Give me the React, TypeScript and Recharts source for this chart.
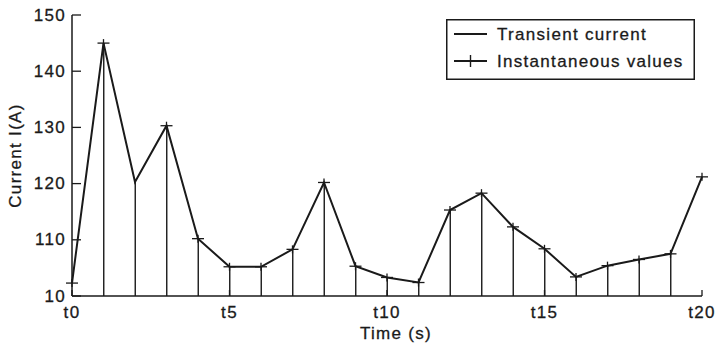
import React from 'react';
import { ComposedChart, Line, Bar, XAxis, YAxis, Legend } from 'recharts';

document.body.style.margin = '0';

// время (отсчёты t0..t20)
const times = [0, 1, 2, 3, 4, 5, 6, 7, 8, 9, 10, 11, 12, 13, 14, 15, 16, 17, 18, 19, 20];
// переходный ток
const transient = [102.3, 145.0, 120.3, 130.3, 110.2, 105.2, 105.2, 108.3, 120.2, 105.3, 103.3, 102.4, 115.3, 118.3, 112.3, 108.4, 103.4, 105.4, 106.5, 107.5, 121.2];
// мгновенные значения (крестики), в t2 нет отметки
const instantaneous = [102.3, 145.0, null, 130.3, 110.2, 105.2, 105.2, 108.3, 120.2, 105.3, 103.3, 102.4, 115.3, 118.3, 112.3, 108.4, 103.4, 105.4, 106.5, 107.5, 121.2];
// вертикальные линии от оси до значения
const stems = [null, 145.0, 120.3, 130.3, 110.2, 105.2, 105.2, 108.3, 120.2, 105.3, 103.3, 102.4, 115.3, 118.3, 112.3, 108.4, 103.4, 105.4, 106.5, 107.5, null];

const xTicks = [0, 5, 10, 15, 20];
const yTicks = [100, 110, 120, 130, 140, 150];
const yTickLabels = ['10', '110', '120', '130', '140', '150'];

const data = times.map((t, i) => ({
  t,
  transient: transient[i],
  inst: instantaneous[i],
  stem: stems[i],
}));

const INK = '#1a1a1a';
const FONT = '"Liberation Sans", Arial, Helvetica, sans-serif';
const textStyle = {
  fontFamily: FONT,
  fontSize: 17,
  letterSpacing: '1.3px',
  fill: INK,
  stroke: INK,
  strokeWidth: 0.3,
};

const YTick = (props: any) => {
  const { x, y, payload } = props;
  const idx = yTicks.indexOf(payload.value);
  return (
    <g>
      <line x1={x + 7} x2={x + 16} y1={y} y2={y} stroke={INK} strokeWidth={1.3} />
      <text x={x + 1} y={y} textAnchor="end" dominantBaseline="central" style={textStyle}>
        {idx >= 0 ? yTickLabels[idx] : payload.value}
      </text>
    </g>
  );
};

const XTick = (props: any) => {
  const { x, y, payload } = props;
  return (
    <g>
      <line x1={x} x2={x} y1={y - 10} y2={y - 16} stroke={INK} strokeWidth={1.3} />
      <text x={x} y={y} dy="0.72em" textAnchor="middle" style={textStyle}>
        {`t${payload.value}`}
      </text>
    </g>
  );
};

const Cross = (props: any) => {
  const { cx, cy, index } = props;
  if (cy == null || props.value == null) return <g key={`c-${index}`} />;
  return (
    <g key={`c-${index}`}>
      <line x1={cx - 6} x2={cx + 6} y1={cy} y2={cy} stroke={INK} strokeWidth={1.3} />
      <line x1={cx} x2={cx} y1={cy - 4} y2={cy + 4} stroke={INK} strokeWidth={1.3} />
    </g>
  );
};

const Stem = (props: any) => {
  const { x, y, width, height } = props;
  if (height == null || isNaN(height)) return <g />;
  const cx = x + width / 2;
  return <line x1={cx} x2={cx} y1={y} y2={y + height} stroke={INK} strokeWidth={1.4} />;
};

const XLabel = (props: any) => {
  const { viewBox } = props;
  return (
    <text
      x={viewBox.x + viewBox.width / 2 + 9}
      y={viewBox.y + viewBox.height - 9}
      textAnchor="middle"
      style={textStyle}
    >
      Time (s)
    </text>
  );
};

const YLabel = (props: any) => {
  const { viewBox } = props;
  const cx = viewBox.x + 15;
  const cy = viewBox.y + viewBox.height / 2;
  return (
    <text
      x={cx}
      y={cy}
      transform={`rotate(-90, ${cx}, ${cy})`}
      textAnchor="middle"
      dominantBaseline="central"
      style={textStyle}
    >
      Current I(A)
    </text>
  );
};

const LegendBox = () => (
  <svg width={249} height={61} style={{ display: 'block' }}>
    <rect x={0.75} y={0.75} width={247.5} height={59.5} fill="#fff" stroke={INK} strokeWidth={1.5} />
    <line x1={8} x2={41} y1={15} y2={15} stroke={INK} strokeWidth={2} />
    <text x={51} y={15} dominantBaseline="central" style={textStyle}>Transient current</text>
    <line x1={8} x2={41} y1={42} y2={42} stroke={INK} strokeWidth={2} />
    <line x1={24.5} x2={24.5} y1={36} y2={48} stroke={INK} strokeWidth={1.4} />
    <text x={51} y={42} dominantBaseline="central" style={textStyle}>Instantaneous values</text>
  </svg>
);

const App: React.FC = () => {
  return (
    <div style={{ width: 724, height: 348, background: '#fff' }}>
      <ComposedChart width={724} height={348} data={data} margin={{ top: 15, right: 22, left: 0, bottom: 0 }}>
        <XAxis
          dataKey="t"
          type="number"
          domain={[0, 20]}
          ticks={xTicks}
          interval={0}
          height={52}
          tickSize={0}
          tickMargin={10}
          tickLine={false}
          axisLine={{ stroke: INK, strokeWidth: 1.5 }}
          tick={<XTick />}
          label={<XLabel />}
        />
        <YAxis
          type="number"
          domain={[100, 150]}
          ticks={yTicks}
          interval={0}
          width={72}
          tickSize={0}
          tickMargin={7}
          tickLine={false}
          axisLine={{ stroke: INK, strokeWidth: 1.5 }}
          tick={<YTick />}
          label={<YLabel />}
        />
        <Legend
          layout="vertical"
          align="center"
          verticalAlign="middle"
          content={<LegendBox />}
          wrapperStyle={{ position: 'absolute', left: 446, top: 19, width: 249, height: 61 }}
        />
        <Bar dataKey="stem" barSize={2} shape={<Stem />} isAnimationActive={false} legendType="none" />
        <Line
          type="linear"
          dataKey="transient"
          name="Transient current"
          stroke={INK}
          strokeWidth={2}
          dot={false}
          activeDot={false}
          isAnimationActive={false}
        />
        <Line
          type="linear"
          dataKey="inst"
          name="Instantaneous values"
          stroke="none"
          dot={Cross}
          activeDot={false}
          isAnimationActive={false}
        />
      </ComposedChart>
    </div>
  );
};

export default App;
